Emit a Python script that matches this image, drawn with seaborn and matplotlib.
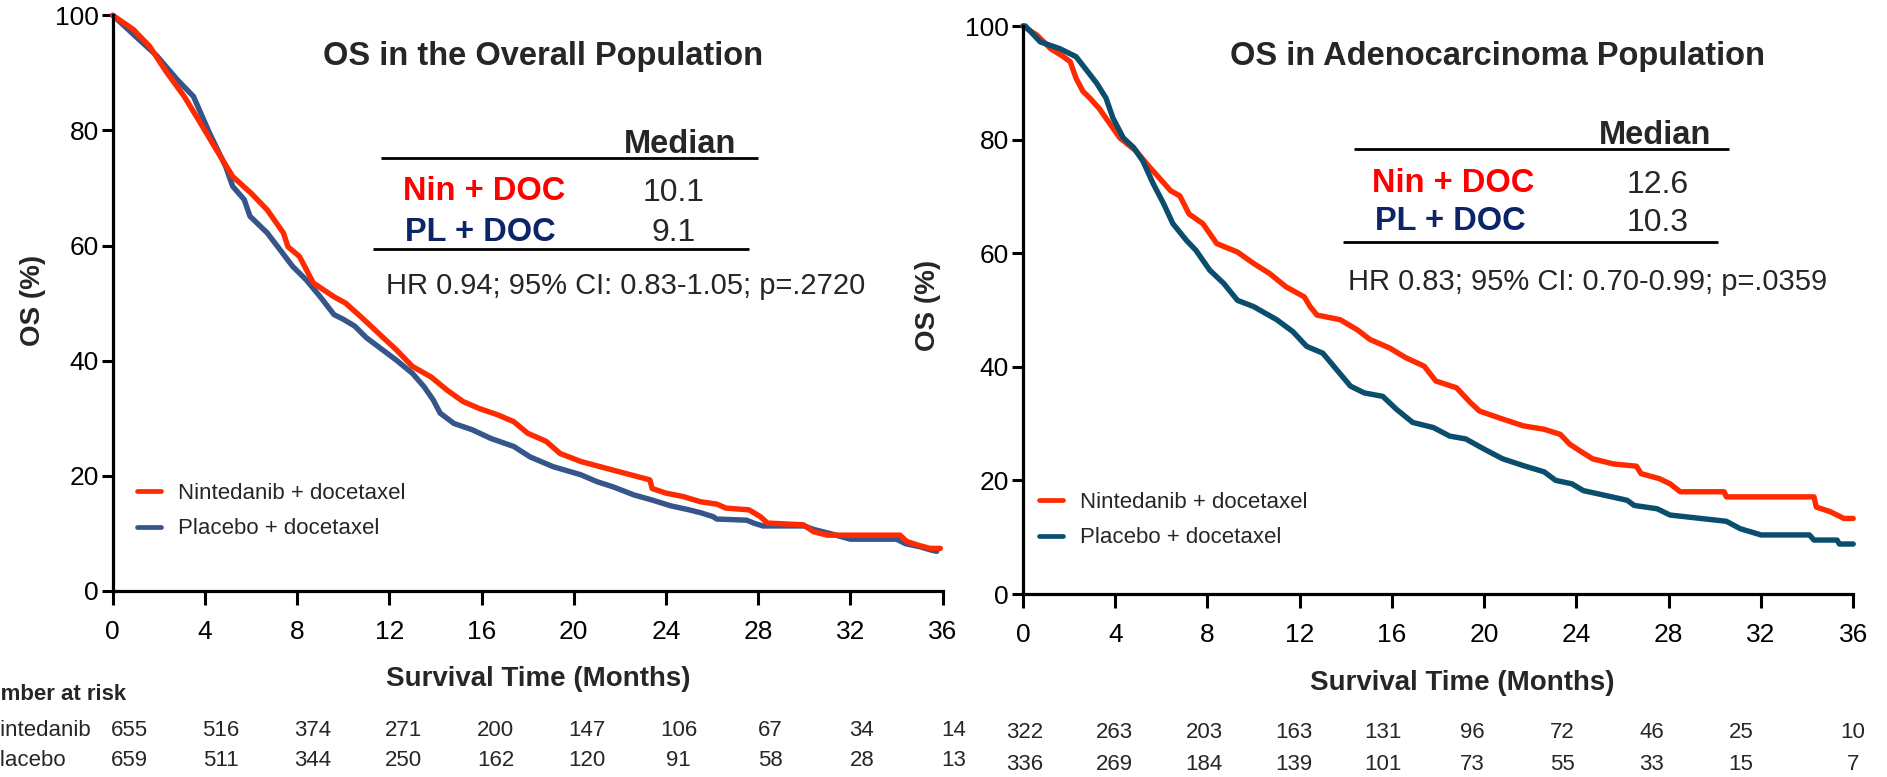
import matplotlib
matplotlib.use("Agg")
import matplotlib.pyplot as plt
import seaborn as sns
import pandas as pd
from matplotlib.lines import Line2D

W, H = 1887, 777
sns.set_style("ticks")
plt.rcParams["font.family"] = ["Liberation Sans", "DejaVu Sans"]

# ---------------- data ----------------
arms = ["Nintedanib + docetaxel", "Placebo + docetaxel"]
x_ticks = [0, 4, 8, 12, 16, 20, 24, 28, 32, 36]
y_ticks = [0, 20, 40, 60, 80, 100]

# Overall population
all_nin_t = [0, 0.9, 1.6, 2.3, 3.1, 3.8, 4.5, 5.2, 6.0, 6.7, 7.4, 7.6, 8.1, 8.7, 9.6, 10.1, 10.8,
             11.6, 12.3, 13.0, 13.8, 14.5, 15.2, 15.9, 16.7, 17.4, 18.0, 18.8, 19.4, 20.3, 21.7,
             23.3, 23.4, 24.0, 24.75, 25.5, 26.2, 26.6, 27.6, 28.1, 28.4, 29.96, 30.4, 31.0,
             34.15, 34.45, 34.9, 35.45, 35.9]
all_nin_s = [100, 97.5, 94.6, 90.3, 85.9, 81.3, 76.6, 72.0, 69.1, 66.2, 62.2, 59.8, 58.1, 53.5, 51.1,
             50.0, 47.5, 44.5, 41.9, 39.0, 37.2, 34.9, 32.9, 31.7, 30.6, 29.4, 27.4, 26.0, 23.9, 22.5,
             21.0, 19.3, 17.8, 17.0, 16.4, 15.5, 15.1, 14.4, 14.1, 12.9, 11.8, 11.5, 10.3, 9.7,
             9.7, 8.6, 8.0, 7.4, 7.4]
all_pl_t = [0, 1.0, 1.9, 2.8, 3.5, 4.2, 4.9, 5.2, 5.7, 5.95, 6.7, 7.25, 7.8, 8.4, 9.0, 9.6, 10.0,
            10.5, 11.0, 11.6, 12.3, 13.0, 13.5, 13.9, 14.2, 14.8, 15.6, 16.4, 17.4, 18.1, 19.1,
            20.3, 21.0, 21.7, 22.6, 23.4, 24.2, 25.0, 25.5, 26.05, 26.2, 27.5, 27.8, 28.2, 30.0,
            30.4, 31.1, 32.0, 34.0, 34.4, 35.0, 35.6, 35.75]
all_pl_s = [100, 96.3, 93.0, 88.8, 85.9, 79.5, 73.7, 70.3, 68.0, 65.1, 62.2, 59.3, 56.4, 54.0, 51.1,
            48.0, 47.2, 46.0, 44.0, 42.2, 40.1, 37.8, 35.5, 33.2, 30.9, 29.1, 28.0, 26.5, 25.1, 23.3,
            21.6, 20.2, 19.0, 18.1, 16.7, 15.8, 14.8, 14.1, 13.6, 12.9, 12.5, 12.3, 11.8, 11.3, 11.3,
            10.7, 10.0, 9.0, 9.0, 8.2, 7.7, 7.0, 6.9]

# Adenocarcinoma population
ade_nin_t = [0, 0.6, 1.2, 1.75, 2.05, 2.3, 2.6, 2.9, 3.3, 3.8, 4.2, 4.9, 5.5, 5.9, 6.4, 6.8, 7.2,
             7.8, 8.4, 9.3, 10.0, 10.7, 11.4, 12.2, 12.45, 12.75, 13.75, 14.5, 15.05, 15.9, 16.6,
             17.4, 17.9, 18.8, 19.4, 19.8, 20.8, 21.7, 22.6, 23.3, 23.7, 24.15, 24.7, 25.6, 26.6,
             26.8, 27.6, 28.06, 28.5, 30.4, 30.5, 34.3, 34.4, 35.0, 35.6, 36.0]
ade_nin_s = [100, 98.4, 96.0, 94.6, 93.7, 90.8, 88.5, 87.3, 85.5, 82.6, 80.3, 78.0, 75.1, 73.3, 71.0,
             70.1, 66.9, 65.2, 61.7, 60.2, 58.2, 56.4, 54.1, 52.3, 50.6, 49.1, 48.3, 46.5, 44.8, 43.3,
             41.6, 40.1, 37.5, 36.3, 33.7, 32.2, 30.8, 29.6, 29.0, 28.1, 26.4, 25.2, 23.8, 22.9, 22.5,
             21.2, 20.3, 19.4, 18.0, 18.0, 17.1, 17.1, 15.3, 14.5, 13.3, 13.3]
ade_pl_t = [0, 0.1, 0.75, 1.6, 2.3, 2.8, 3.2, 3.6, 3.9, 4.35, 4.8, 5.2, 5.65, 6.1, 6.5, 7.1, 7.5,
            8.1, 8.7, 9.3, 10.0, 11.0, 11.7, 12.3, 13.0, 13.6, 14.2, 14.8, 15.6, 16.2, 16.9, 17.8,
            18.5, 19.2, 20.0, 20.8, 21.7, 22.6, 23.1, 23.8, 24.3, 25.2, 26.2, 26.5, 27.5, 28.06,
            29.4, 30.5, 31.1, 32.0, 34.1, 34.3, 35.3, 35.4, 36.0]
ade_pl_s = [100, 100, 97.2, 96.0, 94.6, 92.0, 89.9, 87.3, 83.8, 80.3, 78.6, 76.2, 72.2, 68.7, 65.2,
            62.2, 60.5, 57.0, 54.7, 51.7, 50.6, 48.3, 46.2, 43.6, 42.4, 39.5, 36.6, 35.4, 34.8, 32.5,
            30.2, 29.3, 27.8, 27.3, 25.5, 23.8, 22.6, 21.5, 20.0, 19.4, 18.2, 17.4, 16.5, 15.6, 15.0,
            13.9, 13.3, 12.8, 11.5, 10.4, 10.4, 9.5, 9.5, 8.8, 8.8]

all_risk_nin = [655, 516, 374, 271, 200, 147, 106, 67, 34, 14]
all_risk_pl = [659, 511, 344, 250, 162, 120, 91, 58, 28, 13]
ade_risk_nin = [322, 263, 203, 163, 131, 96, 72, 46, 25, 10]
ade_risk_pl = [336, 269, 184, 139, 101, 73, 55, 33, 15, 7]

titles = ["OS in the Overall Population", "OS in Adenocarcinoma Population"]
medians_nin = ["10.1", "12.6"]
medians_pl = ["9.1", "10.3"]
hr_texts = ["HR 0.94; 95% CI: 0.83-1.05; p=.2720", "HR 0.83; 95% CI: 0.70-0.99; p=.0359"]

# ---------------- styling ----------------
RED = "#ff2a00"
TXT_RED = "#ff0000"
NAVY = "#0c2468"
BLUES = ["#36558a", "#0b4d6d"]

fig = plt.figure(figsize=(W / 100, H / 100), dpi=100)


def fx(px):
    return px / W


def fy(py):
    return 1 - py / H


def ftext(x, y, s, **kw):
    kw.setdefault("va", "center")
    fig.text(fx(x), fy(y), s, **kw)


def hline(x0, x1, y, lw=2.0):
    fig.add_artist(Line2D([fx(x0), fx(x1)], [fy(y), fy(y)], transform=fig.transFigure,
                          color="black", lw=lw, solid_capstyle="butt"))


panels = [
    dict(box=(112.8, 942.6, 15.3, 591), data=(all_nin_t, all_nin_s, all_pl_t, all_pl_s),
         order=[arms[1], arms[0]], blue=BLUES[0],
         title=(543, 57), median=(680, 144.5), line1=(381, 758, 157.5), nin=(403, 191.5),
         val_x=674, val_y=(193, 233),
         pl=(405, 233), line2=(373, 749, 249), hr=(386, 285.5),
         legend=(137, 483), ylab=(33, 300), xlab=(538, 678.5),
         risk=(all_risk_nin, all_risk_pl), risk_x=[129 + 91.6 * k for k in range(10)],
         risk_y=(730, 761)),
    dict(box=(1023, 1853.2, 26, 594), data=(ade_nin_t, ade_nin_s, ade_pl_t, ade_pl_s),
         order=[arms[0], arms[1]], blue=BLUES[1],
         title=(1498, 57), median=(1655, 135.5), line1=(1354, 1729, 149), nin=(1372, 184),
         val_x=1658, val_y=(185, 223),
         pl=(1375, 222), line2=(1343, 1718, 241.5), hr=(1348, 282),
         legend=(1039, 492), ylab=(928, 305), xlab=(1462, 682.5),
         risk=(ade_risk_nin, ade_risk_pl), risk_x=[1025 + 89.5 * k for k in range(9)] + [1853],
         risk_y=(732, 764)),
]

for i, p in enumerate(panels):
    x0, x1, ytop, ybot = p["box"]
    ax = fig.add_axes([fx(x0), fy(ybot), fx(x1) - fx(x0), fy(ytop) - fy(ybot)])
    nt, ns, pt, ps = p["data"]
    df = pd.concat([
        pd.DataFrame({"time": nt, "surv": ns, "arm": arms[0]}),
        pd.DataFrame({"time": pt, "surv": ps, "arm": arms[1]}),
    ], ignore_index=True)
    palette = {arms[0]: RED, arms[1]: p["blue"]}
    handles = {}
    for arm in p["order"]:
        sub = df[df["arm"] == arm]
        sns.lineplot(data=sub, x="time", y="surv", color=palette[arm], estimator=None,
                     sort=False, linewidth=3.9, ax=ax, legend=False)
        line = ax.lines[-1]
        line.set_clip_on(False)
        handles[arm] = line
    ax.set_xlim(0, 36)
    ax.set_ylim(0, 100)
    ax.set_xticks(x_ticks)
    ax.set_yticks(y_ticks)
    ax.set_xlabel("")
    ax.set_ylabel("")
    for sp in ["top", "right"]:
        ax.spines[sp].set_visible(False)
    for sp in ["left", "bottom"]:
        ax.spines[sp].set_linewidth(2.3)
        ax.spines[sp].set_color("black")
    ax.tick_params(axis="y", direction="out", length=8, width=2.2, labelsize=19, pad=2,
                   colors="black")
    ax.tick_params(axis="x", direction="out", length=10, width=2.2, labelsize=19, pad=11,
                   colors="black")
    ax.patch.set_alpha(0)

    # legend
    lx, ly = p["legend"]
    leg = ax.legend([handles[arms[0]], handles[arms[1]]], arms, loc="upper left",
                    bbox_to_anchor=(fx(lx), fy(ly)), bbox_transform=fig.transFigure,
                    frameon=False, fontsize=16, handlelength=1.1, handletextpad=0.75,
                    labelspacing=0.65, borderpad=0, borderaxespad=0)
    for lh in leg.get_lines():
        lh.set_linewidth(3.4)

    # title and median table
    ftext(*p["title"], titles[i], ha="center", fontsize=23.5, fontweight="bold")
    ftext(*p["median"], "Median", ha="center", fontsize=23.5, fontweight="bold")
    hline(*p["line1"])
    ftext(*p["nin"], "Nin + DOC", ha="left", fontsize=23.5, fontweight="bold", color=TXT_RED)
    ftext(p["val_x"], p["val_y"][0], medians_nin[i], ha="center", fontsize=23)
    ftext(*p["pl"], "PL + DOC", ha="left", fontsize=23.5, fontweight="bold", color=NAVY)
    ftext(p["val_x"], p["val_y"][1], medians_pl[i], ha="center", fontsize=23)
    hline(*p["line2"])
    ftext(*p["hr"], hr_texts[i], ha="left", fontsize=21)

    # axis labels
    ftext(*p["ylab"], "OS (%)", ha="center", rotation=90, fontsize=20, fontweight="bold")
    ftext(*p["xlab"], "Survival Time (Months)", ha="center", fontsize=20, fontweight="bold")

    # number at risk
    r_nin, r_pl = p["risk"]
    for k in range(len(r_nin)):
        ftext(p["risk_x"][k], p["risk_y"][0], str(r_nin[k]), ha="center", fontsize=16)
        ftext(p["risk_x"][k], p["risk_y"][1], str(r_pl[k]), ha="center", fontsize=16)

ftext(-29, 695, "Number at risk", ha="left", fontsize=16, fontweight="bold")
ftext(-15.5, 730, "Nintedanib", ha="left", fontsize=16)
ftext(-14.5, 761, "Placebo", ha="left", fontsize=16)

fig.savefig("out.png", dpi=100, facecolor="white")
